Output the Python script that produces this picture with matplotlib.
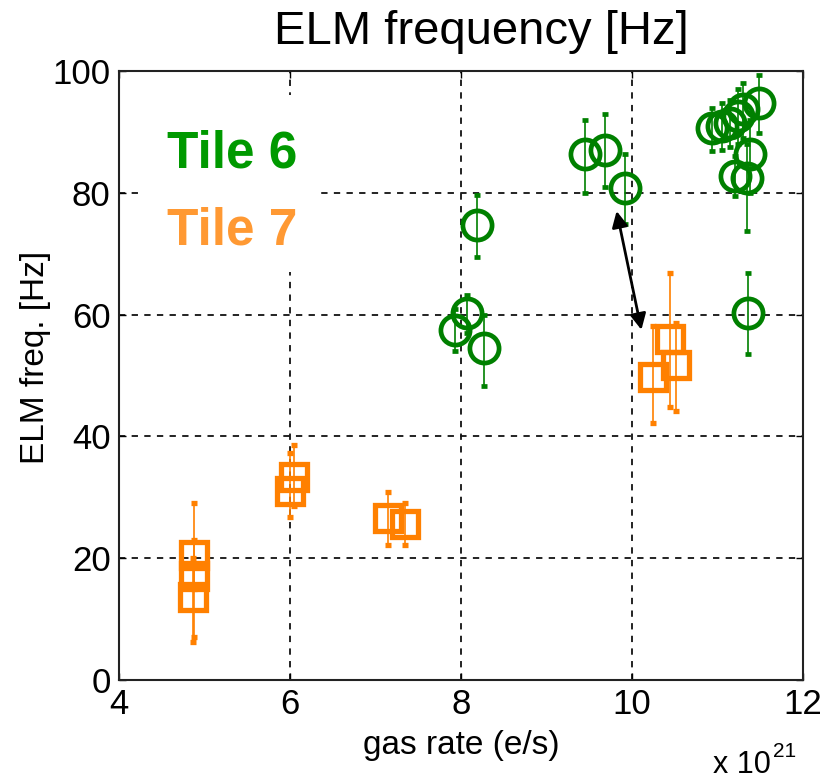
import numpy as np
import matplotlib
matplotlib.use('Agg')
import matplotlib.pyplot as plt
from matplotlib.patches import Rectangle

plt.rcParams['font.family'] = ['Liberation Sans', 'DejaVu Sans']

# Tile 6 discharges: gas rate [1e21 e/s], ELM frequency [Hz] and error range
tile6_rate = [7.93, 8.07, 8.27, 8.19, 9.45, 9.68, 9.92, 10.93, 11.05, 11.15,
              11.24, 11.30, 11.49, 11.38, 11.20, 11.34, 11.36]
tile6_freq = [57.5, 60.3, 54.5, 74.7, 86.3, 87.1, 80.8, 90.7, 91.0, 91.5,
              92.6, 93.7, 94.8, 86.3, 82.7, 82.4, 60.3]
tile6_lo = [54.0, 57.0, 48.3, 69.5, 79.9, 81.0, 74.9, 86.8, 87.0, 87.5,
            88.0, 89.0, 89.8, 80.0, 79.4, 73.7, 53.6]
tile6_hi = [61.0, 63.3, 60.0, 79.6, 92.0, 93.0, 86.3, 94.0, 94.8, 95.3,
            97.0, 98.0, 99.4, 92.0, 86.0, 88.0, 66.8]

# Tile 7 discharges
tile7_rate = [4.88, 4.88, 4.87, 6.05, 6.00, 7.15, 7.35, 10.25, 10.44, 10.52]
tile7_freq = [20.5, 17.0, 13.7, 33.4, 31.0, 26.6, 25.6, 49.8, 56.0, 51.8]
tile7_lo = [15.0, 7.0, 6.3, 28.5, 26.7, 22.1, 22.1, 42.2, 44.8, 44.2]
tile7_hi = [29.1, 23.0, 20.0, 38.6, 37.3, 30.8, 29.0, 58.1, 66.9, 58.6]

# same shot seen on both tiles (tile 6 -> tile 7)
pair_rate = [9.82, 10.11]
pair_freq = [77.0, 57.5]

xticks = [4, 6, 8, 10, 12]
yticks = [0, 20, 40, 60, 80, 100]

green = '#008000'
orange = '#ff8000'

fig = plt.figure(figsize=(8.3, 7.81), dpi=100)
ax = fig.add_axes([119 / 830, 1 - 680 / 781, 684 / 830, 609 / 781])


def yerr(freq, lo, hi):
    f = np.asarray(freq)
    return [f - np.asarray(lo), np.asarray(hi) - f]


ax.errorbar(tile6_rate, tile6_freq, yerr=yerr(tile6_freq, tile6_lo, tile6_hi),
            fmt='o', ms=21, mfc='none', mec=green, mew=3.4, ecolor=green,
            elinewidth=1.2, capsize=2.5, capthick=1.1, zorder=3)
ax.errorbar(tile7_rate, tile7_freq, yerr=yerr(tile7_freq, tile7_lo, tile7_hi),
            fmt='s', ms=18.5, mfc='none', mec=orange, mew=3.8, ecolor=orange,
            elinewidth=1.2, capsize=2.5, capthick=1.1, zorder=3)

ax.annotate('', xy=(pair_rate[0], pair_freq[0]), xytext=(pair_rate[1], pair_freq[1]),
            arrowprops=dict(arrowstyle='<|-|>', color='k', lw=2.0,
                            mutation_scale=24, shrinkA=0, shrinkB=0),
            zorder=4)

ax.set_xlim(4, 12)
ax.set_ylim(0, 100)
ax.set_xticks(xticks)
ax.set_yticks(yticks)
ax.tick_params(labelsize=25, direction='in', length=5, top=True, right=True,
               width=1.0, pad=6)
ax.grid(True, color='#111111', linestyle=(0, (3.5, 3.5)), linewidth=1.3)
ax.set_axisbelow(True)
for s in ax.spines.values():
    s.set_linewidth(1.5)
    s.set_color('#222222')

ax.set_xlabel('gas rate (e/s)', fontsize=24, labelpad=6)
ax.set_ylabel('ELM freq. [Hz]', fontsize=24)
ax.yaxis.set_label_coords(-0.1, 0.53)

# label box over the grid
ax.add_patch(Rectangle((0.033, 0.67), 0.26, 0.29, transform=ax.transAxes,
                       facecolor='white', edgecolor='none', zorder=2))
ax.text(4.56, 84.1, 'Tile 6', color='#009900', fontsize=37, fontweight='bold',
        va='baseline', ha='left', zorder=5)
ax.text(4.56, 71.5, 'Tile 7', color='#ff9933', fontsize=37, fontweight='bold',
        va='baseline', ha='left', zorder=5)

fig.text(481 / 830, 1 - 32 / 781, 'ELM frequency [Hz]', fontsize=34,
         ha='center', va='center')
fig.text(713 / 830, 1 - 773 / 781, 'x 10', fontsize=22, ha='left', va='baseline')
fig.text(773 / 830, 1 - 757 / 781, '21', fontsize=15, ha='left', va='baseline')

fig.savefig('out.png', dpi=100)
